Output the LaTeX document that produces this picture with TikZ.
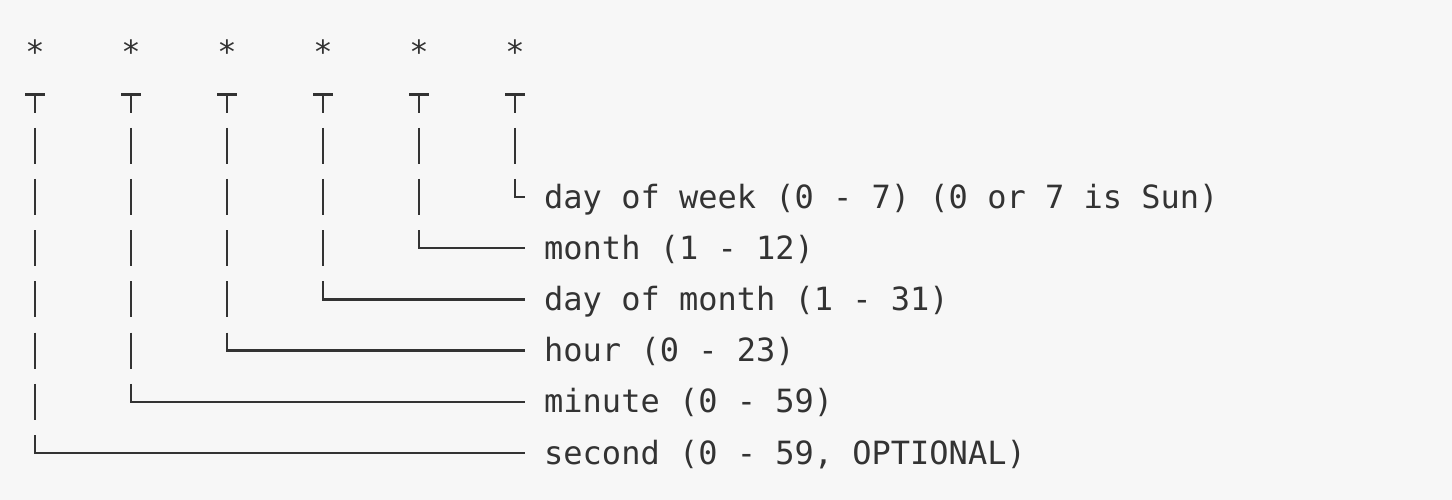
\documentclass[tikz,border=0pt]{standalone}
\usepackage{fontspec}
\newfontfamily\cronfont{DejaVu Sans Mono}
\definecolor{bg}{HTML}{F7F7F7}
\definecolor{ink}{HTML}{333333}
\begin{document}
\begin{tikzpicture}[x=1pt,y=-1pt,
  txt/.style={inner sep=0pt, text=ink, font=\cronfont\fontsize{32pt}{38pt}\selectfont},
  lbl/.style={txt, anchor=west, text height=24pt, text depth=2pt},
  star/.style={txt, anchor=base},
  wire/.style={draw=ink, line width=2.4pt},
  bars/.style={wire, dash pattern=on 36pt off 15.2pt, dash phase=18pt}]
\fill[bg] (0,0) rectangle (1452,500);
\useasboundingbox (0,0) rectangle (1452,500);
% stars
\foreach \c in {0,...,5} {
  \node[star] (s\c) at ({35+96*\c},64) {*};
}
% labels
\node[lbl] (l5) at (544,197)   {day of week (0 - 7) (0 or 7 is Sun)};
\node[lbl] (l4) at (544,248.2) {month (1 - 12)};
\node[lbl] (l3) at (544,299.4) {day of month (1 - 31)};
\node[lbl] (l2) at (544,350.6) {hour (0 - 23)};
\node[lbl] (l1) at (544,401.8) {minute (0 - 59)};
\node[lbl] (l0) at (544,453)   {second (0 - 59, OPTIONAL)};
% connectors
\foreach \c/\r in {0/8,1/7,2/6,3/5,4/4,5/3} {
  \pgfmathsetmacro\yc{43.4+51.2*\r}
  \pgfmathsetmacro\ya{\yc-18}
  \pgfmathsetmacro\yb{\yc-33.2}
  \coordinate (top\c) at (s\c.base |- 0,94.6);
  \coordinate (bend\c) at (s\c.base |- 0,\ya);
  \coordinate (bot\c) at (s\c.base |- 0,\yb);
  \coordinate (end\c) at ([xshift=-19.4pt]l\c.west);
  \draw[wire] ([xshift=-9.6pt]top\c) -- ([xshift=9.6pt]top\c);
  \draw[bars] (top\c) -- (bot\c);
  \draw[wire] (bend\c) |- (end\c);
}
\end{tikzpicture}
\end{document}
